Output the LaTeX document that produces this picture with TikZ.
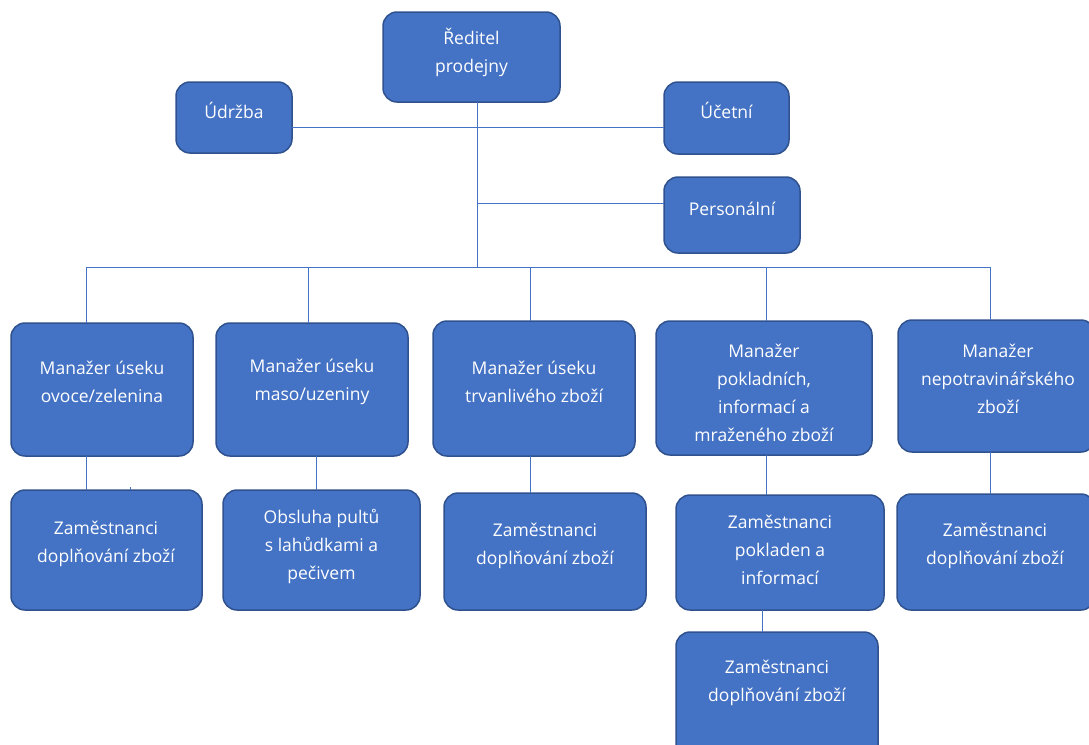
\documentclass[tikz,border=0pt]{standalone}
\usepackage{fontspec}
\setmainfont{Open Sans}
\definecolor{boxfill}{HTML}{4472C4}
\definecolor{boxedge}{HTML}{2F528F}
\definecolor{linec}{HTML}{4472C4}
\newcommand{\orgbox}[5]{%
  \node[box, anchor=north west, minimum width={#4-#2}, minimum height={#5-#3}] (#1) at (#2,#3) {};}
\begin{document}
\begin{tikzpicture}[x=1pt,y=-1pt,
  box/.style={draw=boxedge, line width=1.5pt, fill=boxfill, rounded corners=14pt, inner sep=0pt, outer sep=0pt},
  lbl/.style={text=white, align=center, inner sep=0pt, font=\fontsize{17.5}{28}\selectfont},
  conn/.style={draw=linec, line width=1pt}]
\useasboundingbox (0,0) rectangle (1089,744);
\clip (0,0) rectangle (1089,744);
\coordinate (hub) at (477,127);
\coordinate (phub) at (477,203);
\coordinate (bus) at (477,267);
\coordinate (d1) at (86,267);
\coordinate (d2) at (308,267);
\coordinate (d3) at (530,267);
\coordinate (d4) at (766,267);
\coordinate (d5) at (990,267);
% boxes
\orgbox{dir}{383}{12}{560}{102}
\orgbox{udr}{176}{82}{292}{153}
\orgbox{uce}{664}{82}{789}{154}
\orgbox{per}{664}{177}{800}{253}
\orgbox{m1}{11}{323}{193}{456}
\orgbox{m2}{216}{323}{408}{456}
\orgbox{m3}{433}{321}{635}{456}
\orgbox{m4}{656}{321}{872}{455}
\orgbox{m5}{898}{320}{1095}{452}
\orgbox{e1}{11}{490}{202}{610}
\orgbox{e2}{223}{490}{420}{610}
\orgbox{e3}{444}{493}{646}{610}
\orgbox{e4}{676}{495}{884}{610}
\orgbox{e5}{676}{632}{878}{760}
\orgbox{e6}{897}{494}{1095}{610}
% lines
\draw[conn] (udr.east |- hub) -- (uce.west |- hub);
\draw[conn] (dir.south -| hub) -- (bus);
\draw[conn] (phub) -- (per.west |- phub);
\draw[conn] (d1) -- (d5);
\draw[conn] (d1) -- (m1.north -| d1);
\draw[conn] (d2) -- (m2.north -| d2);
\draw[conn] (d3) -- (m3.north -| d3);
\draw[conn] (d4) -- (m4.north -| d4);
\draw[conn] (d5) -- (m5.north -| d5);
\coordinate (v1) at (86,0);
\coordinate (v2) at (316,0);
\coordinate (v3) at (530,0);
\coordinate (v4) at (766,0);
\coordinate (v5) at (762,0);
\coordinate (v6) at (990,0);
\draw[conn] (m1.south -| v1) -- (e1.north -| v1);
\draw[conn] (m2.south -| v2) -- (e2.north -| v2);
\draw[conn] (m3.south -| v3) -- (e3.north -| v3);
\draw[conn] (m4.south -| v4) -- (e4.north -| v4);
\draw[conn] (e4.south -| v5) -- (e5.north -| v5);
\draw[conn] (m5.south -| v6) -- (e6.north -| v6);
\coordinate (tick) at (130,487);
\draw[conn] (tick) -- (e1.north -| tick);
% labels
\node[lbl] (tdir) at (471.5,52.5) {Ředitel\\prodejny};
\node[lbl] (tudr) at (234,110) {Údržba};
\node[lbl] (tuce) at (726.5,110) {Účetní};
\node[lbl] (tper) at (732,209) {Personální};
\node[lbl] (tm1) at (102,382) {Manažer úseku\\ovoce/zelenina};
\node[lbl] (tm2) at (312,382) {Manažer úseku\\maso/uzeniny};
\node[lbl] (tm3) at (534,382) {Manažer úseku\\trvanlivého zboží};
\node[lbl] (tm4) at (764,393) {Manažer\\pokladních,\\informací a\\mraženého zboží};
\node[lbl] (tm5) at (998,379) {Manažer\\nepotravinářského\\zboží};
\node[lbl] (te1) at (106,543.5) {Zaměstnanci\\doplňování zboží};
\node[lbl] (te2) at (321.5,546) {Obsluha pultů\\s lahůdkami a\\pečivem};
\node[lbl] (te3) at (545,545.5) {Zaměstnanci\\doplňování zboží};
\node[lbl] (te4) at (780,550) {Zaměstnanci\\pokladen a\\informací};
\node[lbl] (te5) at (777,683) {Zaměstnanci\\doplňování zboží};
\node[lbl] (te6) at (995,545.5) {Zaměstnanci\\doplňování zboží};
\end{tikzpicture}
\end{document}
